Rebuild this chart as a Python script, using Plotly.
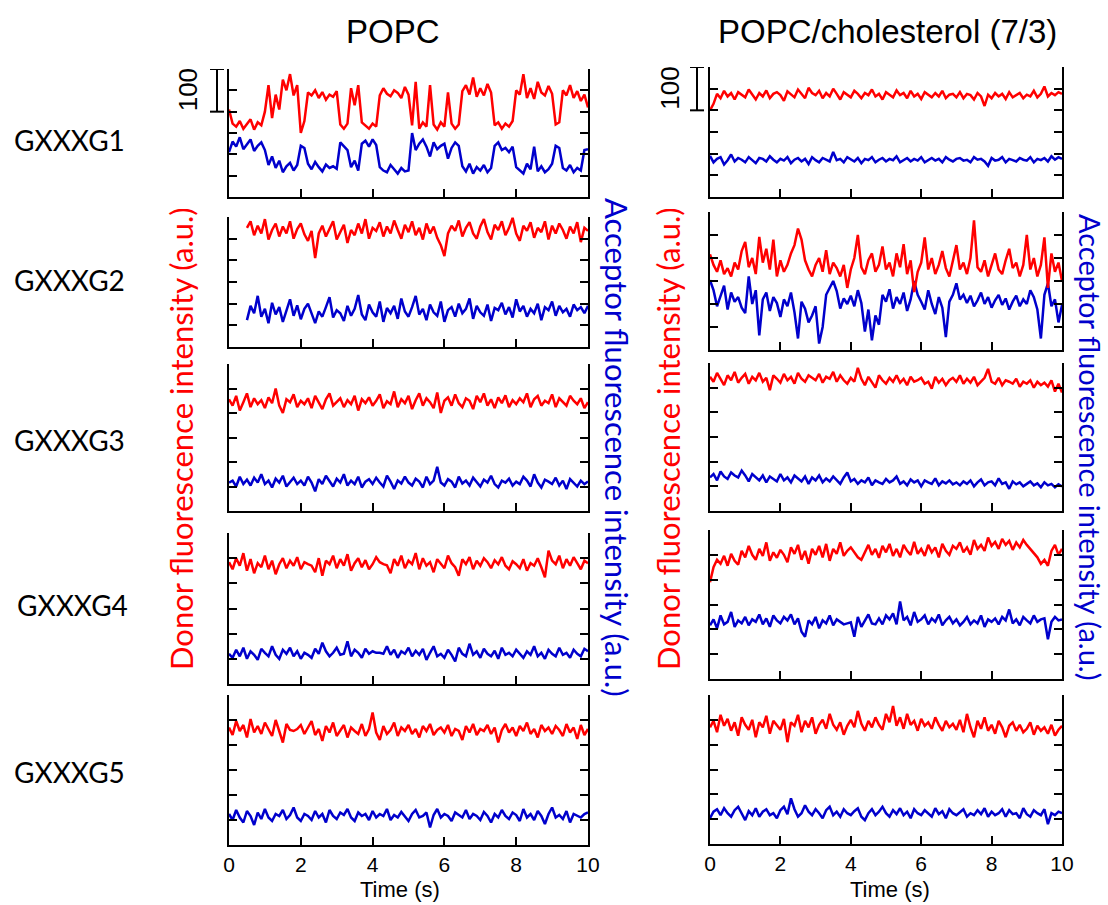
import numpy as np
import plotly.graph_objects as go

# ---------------- data ----------------
time_full = np.round(np.arange(0, 10.0001, 0.1), 2)          # 101 samples, 0..10 s
time_g2_popc = np.round(np.arange(0.5, 10.0001, 0.1), 2)     # 96 samples, 0.5..10 s

popc_g1_donor = [205, 172, 165, 178, 160, 170, 182, 158, 175, 168,
                 200, 262, 185, 240, 205, 275, 250, 288, 238, 262,
                 150, 178, 245, 238, 250, 232, 246, 228, 240, 235,
                 248, 170, 160, 172, 255, 215, 262, 175, 168, 160,
                 172, 165, 238, 255, 242, 236, 250, 244, 232, 258,
                 240, 168, 270, 160, 175, 165, 262, 170, 158, 175,
                 165, 245, 172, 160, 170, 248, 262, 240, 280, 235,
                 255, 238, 265, 245, 168, 175, 160, 172, 165, 178,
                 250, 240, 288, 232, 255, 230, 270, 245, 238, 260,
                 242, 170, 175, 250, 238, 262, 232, 248, 225, 240,
                 210]
popc_g1_acceptor = [105, 130, 118, 140, 112, 125, 135, 108, 120, 128,
                    110, 75, 95, 68, 85, 58, 72, 80, 62, 75,
                    120, 115, 78, 65, 82, 70, 60, 76, 68, 72,
                    66, 128, 118, 110, 70, 85, 62, 125, 132, 118,
                    135, 122, 70, 62, 58, 75, 65, 55, 68, 60,
                    62, 150, 110, 125, 135, 118, 95, 128, 112, 120,
                    125, 90, 115, 128, 120, 72, 60, 78, 55, 70,
                    62, 75, 58, 68, 120, 128, 110, 115, 105, 118,
                    70, 62, 55, 78, 65, 118, 60, 72, 58, 65,
                    78, 120, 115, 68, 62, 75, 58, 68, 62, 110,
                    112]

popc_g2_donor = [275, 290, 258, 280, 262, 295, 248, 270, 285, 255,
                 278, 262, 290, 250, 272, 285, 260, 245, 268, 205,
                 262, 280, 255, 272, 290, 248, 265, 282, 240, 270,
                 258, 285, 262, 295, 250, 275, 268, 288, 255, 278,
                 262, 292, 270, 250, 282, 265, 290, 258, 275, 248,
                 285, 262, 278, 252, 235, 210, 262, 280, 268, 292,
                 255, 275, 288, 262, 250, 278, 295, 265, 248, 282,
                 270, 290, 258, 275, 298, 262, 245, 280, 268, 288,
                 252, 275, 265, 290, 248, 280, 262, 285, 270, 250,
                 278, 262, 288, 242, 275, 268]
popc_g2_acceptor = [62, 95, 78, 118, 70, 88, 55, 102, 75, 92,
                    58, 85, 110, 72, 96, 64, 88, 100, 76, 55,
                    82, 70, 92, 115, 68, 85, 78, 60, 95, 72,
                    88, 120, 75, 62, 98, 80, 70, 105, 58, 90,
                    78, 95, 65, 112, 82, 70, 92, 118, 75, 88,
                    62, 98, 80, 72, 105, 58, 85, 92, 70, 100,
                    78, 88, 112, 65, 95, 80, 72, 98, 60, 90,
                    85, 102, 75, 92, 68, 110, 82, 95, 70, 88,
                    78, 100, 62, 92, 85, 105, 72, 95, 80, 88,
                    70, 98, 85, 92, 78, 95]

popc_g3_donor = [228, 215, 235, 205, 222, 240, 212, 230, 218, 226,
                 210, 232, 220, 250, 215, 200, 228, 222, 238, 212,
                 225, 218, 230, 210, 235, 222, 208, 228, 240, 215,
                 222, 230, 212, 226, 218, 235, 205, 228, 220, 232,
                 215, 225, 238, 210, 224, 218, 244, 212, 228, 220,
                 235, 208, 226, 240, 215, 230, 222, 210, 242, 200,
                 225, 232, 215, 238, 220, 212, 230, 225, 208, 235,
                 222, 240, 215, 228, 210, 232, 220, 236, 212, 226,
                 218, 230, 222, 240, 212, 228, 235, 215, 225, 220,
                 238, 212, 230, 222, 215, 235, 225, 218, 230, 210,
                 222]
popc_g3_acceptor = [58, 62, 50, 70, 55, 64, 52, 68, 58, 75,
                    55, 62, 48, 66, 58, 72, 50, 60, 68, 55,
                    62, 52, 70, 58, 40, 65, 55, 72, 60, 50,
                    66, 58, 75, 52, 62, 55, 70, 48, 60, 65,
                    55, 68, 58, 50, 72, 60, 45, 62, 56, 70,
                    58, 52, 66, 60, 48, 70, 55, 62, 90, 58,
                    52, 65, 60, 48, 70, 56, 62, 52, 68, 58,
                    50, 64, 58, 72, 55, 48, 62, 58, 66, 52,
                    60, 55, 70, 62, 50, 75, 58, 48, 64, 60,
                    55, 68, 52, 62, 45, 65, 58, 50, 62, 55,
                    60]

popc_g4_donor = [242, 228, 250, 235, 260, 225, 248, 220, 240, 232,
                 255, 228, 245, 218, 238, 250, 230, 245, 235, 252,
                 228, 242, 238, 235, 222, 250, 215, 245, 238, 255,
                 230, 248, 235, 258, 225, 240, 250, 232, 246, 228,
                 238, 252, 242, 238, 236, 220, 248, 235, 255, 230,
                 245, 238, 260, 228, 250, 235, 242, 222, 248, 238,
                 230, 255, 240, 232, 215, 248, 238, 252, 228, 245,
                 235, 250, 242, 230, 246, 238, 252, 235, 228, 244,
                 238, 230, 248, 225, 240, 235, 250, 232, 212, 265,
                 245, 238, 255, 230, 248, 235, 252, 240, 228, 245,
                 240]
popc_g4_acceptor = [60, 52, 68, 55, 72, 50, 65, 58, 48, 70,
                    62, 55, 75, 58, 50, 68, 60, 72, 55, 65,
                    50, 62, 58, 52, 70, 60, 82, 65, 55, 62,
                    72, 58, 60, 85, 55, 68, 62, 52, 70, 60,
                    65, 62, 62, 60, 75, 58, 68, 52, 65, 60,
                    72, 55, 66, 58, 70, 48, 62, 75, 55, 60,
                    52, 68, 58, 45, 72, 60, 55, 80, 58, 65,
                    52, 70, 60, 55, 66, 50, 72, 58, 62, 55,
                    68, 60, 52, 65, 58, 75, 55, 62, 50, 68,
                    60, 55, 72, 58, 62, 52, 68, 60, 55, 70,
                    65]

popc_g5_donor = [235, 220, 248, 228, 240, 215, 252, 225, 238, 222,
                 245, 232, 218, 250, 228, 205, 242, 230, 228, 232,
                 240, 222, 235, 248, 220, 232, 208, 238, 225, 245,
                 218, 230, 240, 215, 235, 228, 222, 242, 218, 232,
                 265, 225, 210, 238, 222, 230, 245, 218, 235, 228,
                 240, 222, 232, 215, 238, 228, 242, 220, 230, 235,
                 225, 240, 218, 232, 228, 210, 238, 225, 242, 220,
                 232, 228, 240, 222, 235, 205, 230, 242, 225, 235,
                 218, 238, 228, 245, 222, 232, 215, 240, 228, 235,
                 222, 238, 230, 218, 242, 225, 235, 212, 240, 220,
                 232]
popc_g5_acceptor = [62, 50, 70, 55, 45, 68, 58, 40, 65, 52,
                    72, 55, 48, 62, 58, 70, 52, 60, 75, 55,
                    48, 62, 58, 50, 68, 55, 62, 45, 70, 58,
                    52, 65, 60, 72, 55, 48, 65, 58, 62, 50,
                    68, 55, 62, 58, 72, 50, 60, 55, 66, 58,
                    48, 62, 70, 55, 58, 65, 35, 60, 72, 55,
                    62, 58, 48, 65, 60, 55, 70, 52, 62, 58,
                    50, 66, 58, 45, 62, 55, 70, 58, 52, 65,
                    60, 48, 72, 55, 62, 50, 68, 58, 42, 62,
                    75, 55, 60, 52, 68, 45, 62, 58, 55, 62,
                    65]

chol_g1_donor = [200, 215, 238, 228, 245, 232, 240, 225, 242, 236,
                 230, 248, 235, 225, 240, 232, 246, 228, 238, 242,
                 235, 222, 244, 236, 230, 248, 238, 228, 252, 240,
                 235, 245, 228, 240, 232, 250, 238, 225, 242, 236,
                 230, 245, 238, 228, 240, 235, 248, 232, 238, 225,
                 242, 236, 230, 246, 235, 240, 228, 245, 232, 238,
                 226, 242, 235, 230, 240, 232, 245, 228, 236, 238,
                 230, 242, 228, 238, 235, 225, 240, 232, 210, 236,
                 228, 240, 232, 238, 226, 242, 230, 235, 240, 228,
                 236, 232, 245, 230, 238, 255, 232, 240, 235, 242,
                 238]
chol_g1_acceptor = [95, 80, 88, 92, 75, 85, 98, 82, 90, 86,
                    80, 92, 85, 78, 90, 88, 82, 94, 86, 80,
                    88, 84, 92, 78, 86, 90, 82, 88, 76, 92,
                    85, 80, 90, 86, 82, 104, 85, 88, 80, 92,
                    86, 82, 90, 78, 88, 85, 92, 80, 86, 90,
                    82, 88, 85, 94, 80, 86, 90, 82, 88, 84,
                    92, 80, 86, 90, 84, 88, 80, 92, 86, 82,
                    88, 90, 84, 86, 80, 92, 86, 88, 82, 72,
                    90, 84, 86, 92, 80, 88, 85, 82, 90, 86,
                    84, 92, 80, 88, 85, 90, 82, 94, 86, 92,
                    88]

chol_g2_donor = [208, 185, 170, 195, 165, 178, 160, 190, 175, 215,
                 235, 180, 200, 165, 246, 190, 220, 175, 240, 160,
                 195, 170, 185, 210, 228, 264, 240, 195, 175, 160,
                 185, 200, 170, 217, 165, 190, 178, 160, 185, 135,
                 175, 200, 250, 180, 165, 195, 210, 170, 185, 225,
                 175, 190, 160, 210, 180, 230, 165, 195, 126, 170,
                 190, 245, 175, 200, 165, 185, 215, 178, 160, 195,
                 228, 175, 190, 165, 200, 282, 180, 170, 195, 160,
                 185, 210, 175, 165, 195, 220, 178, 190, 160, 185,
                 250, 175, 200, 160, 185, 245, 135, 210, 170, 190,
                 150]
chol_g2_acceptor = [152, 130, 95, 118, 140, 88, 125, 105, 115, 92,
                    80, 160, 100, 130, 32, 110, 125, 85, 115, 102,
                    72, 110, 95, 125, 82, 25, 105, 90, 60, 75,
                    95, 14, 50, 120, 135, 150, 128, 90, 112, 100,
                    118, 95, 130, 102, 40, 88, 21, 75, 55, 120,
                    105, 132, 90, 115, 100, 125, 85, 110, 150, 120,
                    105, 88, 130, 100, 78, 115, 92, 28, 105, 120,
                    145, 110, 120, 102, 118, 95, 108, 125, 100, 115,
                    92, 108, 120, 98, 112, 88, 105, 118, 95, 110,
                    100, 130, 115, 88, 25, 120, 145, 95, 110, 60,
                    98]

chol_g3_donor = [272, 262, 280, 268, 255, 275, 265, 282, 260, 270,
                 278, 258, 272, 265, 280, 262, 270, 245, 275, 268,
                 260, 278, 265, 272, 258, 280, 268, 262, 275, 270,
                 265, 278, 260, 272, 268, 282, 262, 275, 265, 258,
                 270, 262, 290, 268, 255, 272, 262, 250, 275, 265,
                 258, 270, 262, 275, 260, 268, 255, 272, 262, 265,
                 270, 258, 262, 248, 272, 260, 268, 255, 265, 270,
                 262, 275, 258, 268, 260, 272, 255, 262, 270, 288,
                 262, 258, 270, 255, 265, 262, 258, 268, 252, 262,
                 258, 265, 250, 262, 255, 260, 252, 265, 242, 258,
                 240]
chol_g3_acceptor = [68, 75, 62, 80, 70, 65, 78, 72, 68, 82,
                    72, 60, 75, 68, 62, 72, 58, 70, 65, 60,
                    75, 62, 68, 58, 72, 65, 60, 70, 55, 68,
                    62, 72, 58, 66, 60, 70, 62, 55, 68, 78,
                    60, 65, 55, 62, 58, 68, 52, 62, 58, 55,
                    65, 58, 62, 70, 55, 60, 52, 64, 58, 62,
                    50, 62, 58, 55, 66, 52, 60, 56, 62, 54,
                    58, 52, 60, 55, 62, 50, 58, 64, 52, 58,
                    60, 52, 66, 55, 58, 45, 60, 54, 58, 50,
                    55, 60, 52, 56, 48, 58, 52, 55, 48, 54,
                    50]

chol_g4_donor = [195, 225, 240, 232, 248, 228, 252, 238, 230, 258,
                 245, 268, 250, 240, 262, 248, 275, 238, 255, 244,
                 260, 250, 235, 265, 252, 270, 240, 258, 232, 262,
                 250, 268, 245, 272, 238, 262, 252, 275, 248, 258,
                 265, 255, 245, 240, 255, 270, 250, 262, 244, 268,
                 255, 272, 248, 262, 245, 270, 258, 250, 276, 252,
                 262, 248, 270, 255, 265, 245, 272, 258, 250, 268,
                 262, 275, 255, 265, 250, 280, 262, 270, 258, 285,
                 268, 276, 262, 282, 270, 278, 260, 275, 265, 280,
                 270, 262, 255, 245, 232, 240, 228, 258, 270, 250,
                 262]
chol_g4_acceptor = [108, 120, 102, 128, 110, 115, 135, 105, 118, 112,
                    125, 108, 120, 115, 130, 110, 122, 105, 128, 118,
                    112, 125, 118, 130, 110, 122, 95, 85, 118, 110,
                    125, 102, 118, 112, 128, 108, 120, 115, 110, 112,
                    114, 85, 125, 105, 118, 130, 112, 110, 122, 110,
                    128, 120, 132, 110, 156, 118, 125, 108, 135, 115,
                    120, 128, 110, 122, 115, 130, 108, 118, 125, 112,
                    120, 108, 115, 125, 110, 118, 112, 128, 105, 120,
                    115, 122, 110, 125, 118, 140, 112, 120, 108, 125,
                    118, 112, 128, 115, 120, 122, 80, 115, 125, 118,
                    120]

chol_g5_donor = [235, 248, 225, 260, 238, 252, 228, 245, 218, 255,
                 240, 230, 250, 215, 245, 235, 258, 222, 248, 238,
                 230, 252, 205, 245, 238, 260, 225, 248, 235, 255,
                 222, 240, 250, 232, 262, 240, 230, 245, 220, 238,
                 250, 235, 268, 242, 228, 248, 235, 255, 240, 230,
                 262, 245, 278, 238, 255, 232, 262, 240, 248, 228,
                 252, 238, 245, 232, 255, 240, 228, 248, 235, 242,
                 230, 250, 225, 262, 235, 215, 248, 232, 255, 228,
                 240, 222, 248, 235, 215, 238, 245, 228, 240, 225,
                 232, 245, 220, 238, 228, 235, 222, 240, 218, 230,
                 238]
chol_g5_acceptor = [52, 65, 70, 58, 72, 62, 55, 68, 75, 60,
                    48, 66, 58, 72, 55, 65, 70, 58, 62, 52,
                    68, 75, 60, 92, 70, 55, 62, 78, 65, 58,
                    70, 62, 52, 68, 75, 58, 65, 55, 70, 62,
                    58, 66, 72, 55, 48, 62, 70, 58, 65, 75,
                    62, 55, 68, 60, 72, 58, 65, 52, 70, 62,
                    58, 68, 62, 55, 72, 60, 66, 52, 70, 62,
                    58, 65, 70, 55, 62, 58, 68, 60, 72, 55,
                    65, 58, 62, 70, 55, 68, 60, 62, 52, 72,
                    60, 55, 68, 62, 58, 70, 40, 62, 58, 65,
                    62]

row_labels = ["GXXXG1", "GXXXG2", "GXXXG3", "GXXXG4", "GXXXG5"]
column_titles = ["POPC", "POPC/cholesterol (7/3)"]
x_tick_vals = [0, 2, 4, 6, 8, 10]
y_tick_vals = [0, 50, 100, 150, 200, 250, 300]

panels = [
    # (column, row, time, donor, acceptor)
    (0, 0, time_full, popc_g1_donor, popc_g1_acceptor),
    (0, 1, time_g2_popc, popc_g2_donor, popc_g2_acceptor),
    (0, 2, time_full, popc_g3_donor, popc_g3_acceptor),
    (0, 3, time_full, popc_g4_donor, popc_g4_acceptor),
    (0, 4, time_full, popc_g5_donor, popc_g5_acceptor),
    (1, 0, time_full, chol_g1_donor, chol_g1_acceptor),
    (1, 1, time_full, chol_g2_donor, chol_g2_acceptor),
    (1, 2, time_full, chol_g3_donor, chol_g3_acceptor),
    (1, 3, time_full, chol_g4_donor, chol_g4_acceptor),
    (1, 4, time_full, chol_g5_donor, chol_g5_acceptor),
]

# ---------------- layout geometry (window pixels) ----------------
W, H = 1108, 905
col_x_px = [(229, 588), (710, 1062)]
row_y_px = [
    [(69, 197), (217, 347), (364, 511), (533, 684), (695, 845)],
    [(67, 197), (212, 350), (363, 511), (530, 679), (695, 844)],
]

def px_x(p):
    return p / W

def px_y(p):
    return 1 - p / H

RED = "#ff0000"
BLUE = "#0000cc"
FONT = "Liberation Sans"
LABEL_FONT = "Lato"

fig = go.Figure()
layout = dict(
    width=W, height=H,
    margin=dict(l=0, r=0, t=0, b=0, autoexpand=False),
    paper_bgcolor="white", plot_bgcolor="white",
    showlegend=False,
    font=dict(family=FONT, color="black"),
)

for i, (c, r, t, don, acc) in enumerate(panels):
    n = "" if i == 0 else str(i + 1)
    xa, ya = "x" + n, "y" + n
    fig.add_trace(go.Scatter(x=t, y=acc, mode="lines", xaxis=xa, yaxis=ya,
                             line=dict(color=BLUE, width=2.5), hoverinfo="skip"))
    fig.add_trace(go.Scatter(x=t, y=don, mode="lines", xaxis=xa, yaxis=ya,
                             line=dict(color=RED, width=2.5), hoverinfo="skip"))
    x0, x1 = col_x_px[c]
    y0, y1 = row_y_px[c][r]
    bottom = (r == 4)
    layout["xaxis" + n] = dict(
        domain=[px_x(x0), px_x(x1)], anchor=ya, range=[0, 10],
        tickvals=x_tick_vals, ticks="inside", ticklen=8, tickwidth=1.6,
        tickcolor="black", showline=True, linecolor="black", linewidth=1.6,
        mirror=False, showgrid=False, zeroline=False, automargin=False,
        showticklabels=bottom, tickfont=dict(size=21, family=FONT),
    )
    layout["yaxis" + n] = dict(
        domain=[px_y(y1), px_y(y0)], anchor=xa, range=[0, 300],
        tickvals=y_tick_vals, ticks="inside", ticklen=8, tickwidth=1.6,
        tickcolor="black", showline=True, linecolor="black", linewidth=1.6,
        mirror="ticks", showgrid=False, zeroline=False, showticklabels=False,
        automargin=False,
    )

fig.update_layout(**layout)

def txt(text, x, y, size, color="black", angle=0, family=FONT):
    return dict(text=text, x=px_x(x), y=px_y(y), xref="paper", yref="paper",
                xanchor="center", yanchor="middle", showarrow=False, textangle=angle,
                font=dict(size=size, family=family, color=color))

annotations = []
title_x = [393, 887]
time_x = [400, 890]
for c, title in enumerate(column_titles):
    annotations.append(txt(title, title_x[c], 32, 33))
    annotations.append(txt("Time (s)", time_x[c], 889, 22))
row_label_y = [140, 280, 440, 605, 772]
row_label_x = [69, 69, 69, 72, 69]
for lbl, ly, lx in zip(row_labels, row_label_y, row_label_x):
    annotations.append(txt(lbl, lx, ly, 28, family=LABEL_FONT))
for dx, ax_x, ax_size in [(181, 617, 31), (668, 1091, 29)]:
    annotations.append(txt("Donor fluorescence intensity (a.u.)", dx, 439, 31, RED, -90, LABEL_FONT))
    annotations.append(txt("Acceptor fluorescence intensity (a.u.)", ax_x, 447, ax_size, BLUE, 90, LABEL_FONT))

# scale bars (100 units on the panel's own y scale)
scale_bar = [200, 300]
shapes = []
for yref, bx, tx in [("y", 217, 188), ("y6", 697, 670)]:
    shapes.append(dict(type="line", xref="paper", yref=yref, x0=px_x(bx), x1=px_x(bx),
                       y0=scale_bar[0], y1=scale_bar[1], line=dict(color="black", width=2)))
    for yv in scale_bar:
        shapes.append(dict(type="line", xref="paper", yref=yref, x0=px_x(bx - 7), x1=px_x(bx + 7),
                           y0=yv, y1=yv, line=dict(color="black", width=2)))
    annotations.append(dict(text="100", x=px_x(tx), y=sum(scale_bar) / 2, xref="paper", yref=yref,
                            xanchor="center", yanchor="middle", showarrow=False, textangle=-90,
                            font=dict(size=26, family=FONT, color="black")))

fig.update_layout(annotations=annotations, shapes=shapes)
fig.write_html(
    "out.html",
    config={"displayModeBar": False, "responsive": False},
    post_script="document.body.style.margin='0';"
                "document.body.style.overflow='hidden';"
                "document.documentElement.style.overflow='hidden';",
)
